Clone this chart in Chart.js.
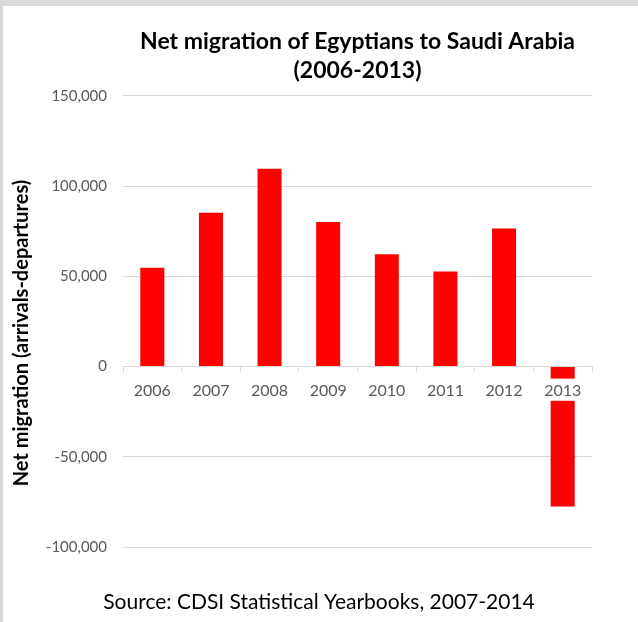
<!DOCTYPE html>
<html>
<head>
<meta charset="utf-8">
<script src="https://cdn.jsdelivr.net/npm/chart.js@4.4.0/dist/chart.umd.min.js"></script>
<style>
  body { margin: 0; background: #fff; }
  #wrap { position: relative; width: 638px; height: 622px; }
  #wrap .band-top { position: absolute; left: 0; top: 0; width: 638px; height: 6px; background: #d9d9d9; }
  #wrap .band-left { position: absolute; left: 0; top: 0; width: 3px; height: 622px; background: #d9d9d9; }
  canvas { display: block; }
</style>
</head>
<body>
<div id="wrap">
  <canvas id="chart" width="638" height="622"></canvas>
  <div class="band-top"></div>
  <div class="band-left"></div>
</div>
<script>
const years = ["2006", "2007", "2008", "2009", "2010", "2011", "2012", "2013"];
const netMigration = [54800, 85300, 109700, 80200, 62300, 52700, 76500, -77500];
const yMin = -100000;
const yMax = 150000;
const yStep = 50000;
const titleLines = ["Net migration of Egyptians to Saudi Arabia", "(2006-2013)"];
const yTitle = "Net migration (arrivals-departures)";
const sourceNote = "Source: CDSI Statistical Yearbooks, 2007-2014";

const FONT = "Lato, 'Open Sans', sans-serif";
const gridColor = "#d9d9d9";
const tickColor = "#595959";

// axis title and source line are drawn by hand so they sit where the original has them
const textPlugin = {
  id: "extraText",
  afterDraw(chart) {
    const ctx = chart.ctx;
    ctx.save();
    ctx.fillStyle = "#000";
    ctx.textAlign = "center";
    ctx.textBaseline = "middle";

    ctx.font = "21px " + FONT;
    ctx.fillText(sourceNote, chart.width / 2, 602);

    ctx.translate(22, 333);
    ctx.rotate(-Math.PI / 2);
    ctx.font = "bold 20px " + FONT;
    ctx.fillText(yTitle, 0, 0);
    ctx.restore();
  }
};

new Chart(document.getElementById("chart"), {
  type: "bar",
  data: {
    labels: years,
    datasets: [{
      data: netMigration,
      backgroundColor: "#ff0000",
      borderWidth: 0,
      categoryPercentage: 1,
      barPercentage: 0.41
    }]
  },
  options: {
    responsive: false,
    animation: false,
    layout: { padding: { left: 0, right: 46, top: 0, bottom: 75 } },
    plugins: {
      legend: { display: false },
      tooltip: { enabled: false },
      title: {
        display: true,
        text: titleLines,
        fullSize: false,
        color: "#000",
        font: { family: FONT, size: 23, weight: "bold", lineHeight: 1.26 },
        padding: { top: 27, bottom: 11 }
      }
    },
    scales: {
      x: {
        position: { y: 0 },
        grid: { drawOnChartArea: false, color: gridColor, tickLength: 5, offset: true },
        border: { color: gridColor },
        ticks: {
          z: 1,
          color: tickColor,
          font: { family: FONT, size: 16 },
          padding: 10,
          showLabelBackdrop: true,
          backdropColor: "#fff",
          backdropPadding: { top: 3, bottom: 0, left: 2, right: 2 }
        }
      },
      y: {
        min: yMin,
        max: yMax,
        afterFit(scale) { scale.width = 123; },
        grid: { color: gridColor, drawTicks: false },
        border: { display: false },
        ticks: {
          stepSize: yStep,
          color: tickColor,
          font: { family: FONT, size: 15 },
          padding: 16,
          callback: v => v.toLocaleString("en-US")
        }
      }
    }
  },
  plugins: [textPlugin]
});
</script>
</body>
</html>
